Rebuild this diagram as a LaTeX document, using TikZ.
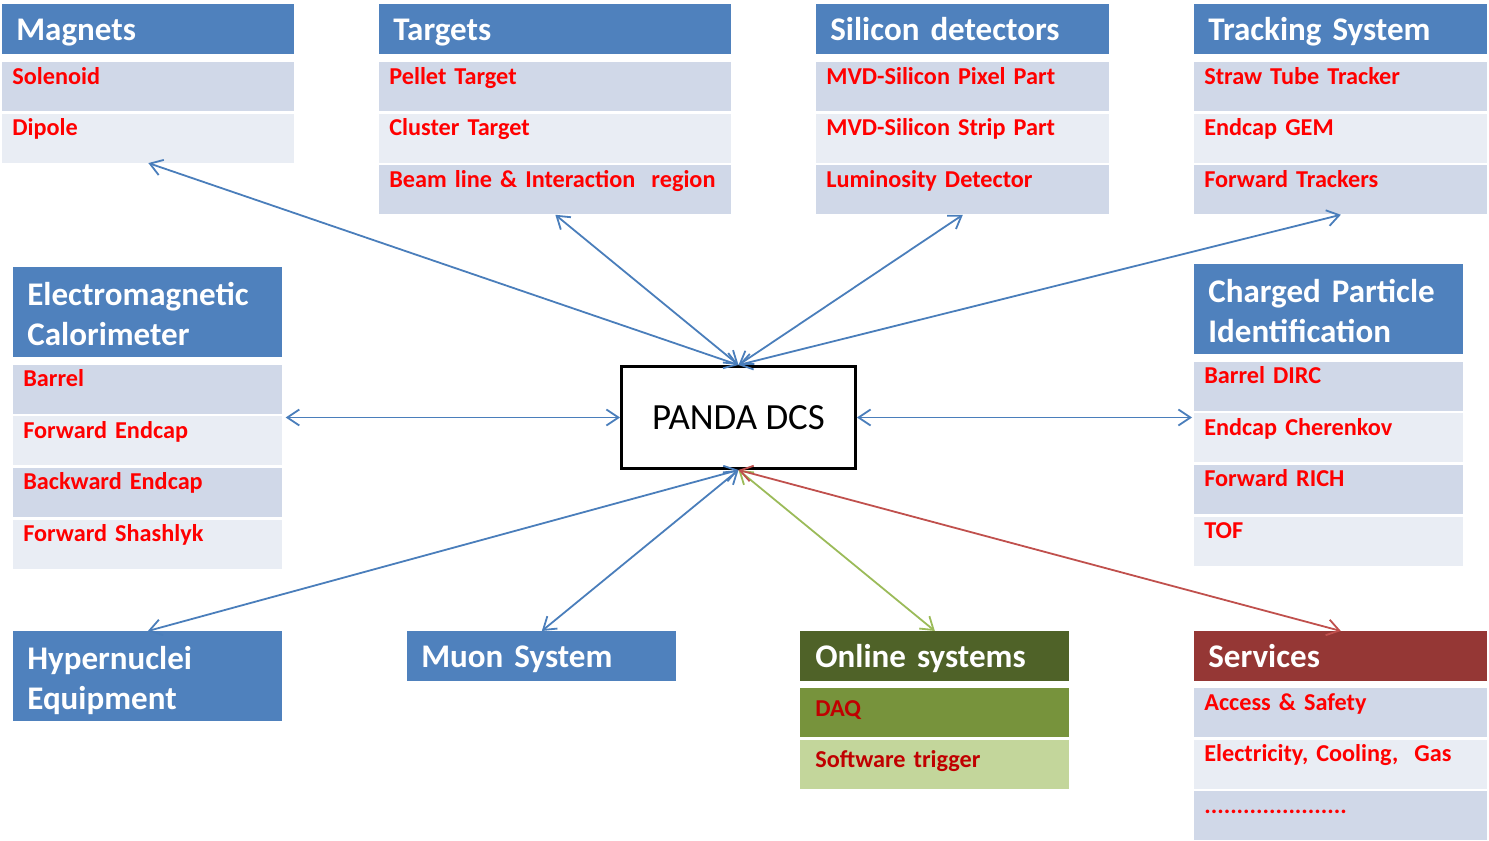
\documentclass[tikz,border=0pt]{standalone}
\usepackage{fontspec}
\setmainfont{Carlito}
\usetikzlibrary{positioning,arrows.meta}

\definecolor{hdblue}{HTML}{4F81BD}
\definecolor{rowdark}{HTML}{D0D8E8}
\definecolor{rowlight}{HTML}{E9EDF4}
\definecolor{lnblue}{HTML}{4A7EBB}
\definecolor{olgreen}{HTML}{4F6228}
\definecolor{daqgreen}{HTML}{77933C}
\definecolor{swgreen}{HTML}{C3D69B}
\definecolor{srvred}{HTML}{953735}
\definecolor{arrgreen}{HTML}{9BBB59}
\definecolor{arrred}{HTML}{C0504D}
\definecolor{txtred}{HTML}{C00000}

\tikzset{
  head/.style={fill=hdblue, text=white, font=\fontsize{18.8}{23}\selectfont\bfseries,
    inner xsep=0.28cm, inner ysep=0pt, text width=#1*0.02cm-0.56cm,
    text height=0.72cm, text depth=0.28cm, anchor=north west, align=left},
  bighead/.style={head=#1, text height=0.76cm, text depth=1.03cm},
  item/.style={text=red, font=\fontsize{13.8}{17}\selectfont\bfseries,
    inner xsep=0.2cm, inner ysep=0pt, text width=#1*0.02cm-0.4cm,
    text height=0.44cm, text depth=0.54cm},
  rowa/.style={item=#1, fill=rowdark},
  rowb/.style={item=#1, fill=rowlight},
  onrow/.style={item=#1, text=txtred, inner xsep=0.3cm, text width=#1*0.02cm-0.6cm,
    text height=0.56cm, text depth=0.42cm},
  dcsbox/.style={draw=black, line width=0.06cm, minimum width=4.68cm,
    minimum height=2.04cm, font=\fontsize{21}{25}\selectfont},
  link/.style={lnblue, line width=0.036cm, <->,
    >={Straight Barb[length=0.24cm,width=0.32cm]}}
}

\begin{document}
\begin{tikzpicture}[x=0.02cm, y=-0.02cm]
  \useasboundingbox (0,0) rectangle (1489,841);

  % top row
  \node[head=292] (mag) at (2,4) {Magnets};
  \node[rowa=292, below=0.14cm of mag] (mag1) {Solenoid};
  \node[rowb=292, below=0.04cm of mag1] (mag2) {Dipole};

  \node[head=352] (tgt) at (379,4) {Targets};
  \node[rowa=352, below=0.14cm of tgt] (tgt1) {Pellet Target};
  \node[rowb=352, below=0.04cm of tgt1] (tgt2) {Cluster Target};
  \node[rowa=352, below=0.04cm of tgt2] (tgt3) {Beam line \& Interaction\ \ region};

  \node[head=293] (sil) at (816,4) {Silicon detectors};
  \node[rowa=293, below=0.14cm of sil] (sil1) {MVD-Silicon Pixel Part};
  \node[rowb=293, below=0.04cm of sil1] (sil2) {MVD-Silicon Strip Part};
  \node[rowa=293, below=0.04cm of sil2] (sil3) {Luminosity Detector};

  \node[head=293] (trk) at (1194,4) {Tracking System};
  \node[rowa=293, below=0.14cm of trk] (trk1) {Straw Tube Tracker};
  \node[rowb=293, below=0.04cm of trk1] (trk2) {Endcap GEM};
  \node[rowa=293, below=0.04cm of trk2] (trk3) {Forward Trackers};

  % middle row
  \node[bighead=269] (emc) at (13,267) {Electromagnetic\\Calorimeter};
  \node[rowa=269, below=0.14cm of emc] (emc1) {Barrel};
  \node[rowb=269, below=0.04cm of emc1] (emc2) {Forward Endcap};
  \node[rowa=269, below=0.04cm of emc2] (emc3) {Backward Endcap};
  \node[rowb=269, below=0.04cm of emc3] (emc4) {Forward Shashlyk};

  \node[dcsbox] (dcs) at (738.5,417.5) {PANDA DCS};

  \node[bighead=269] (cpid) at (1194,264) {Charged Particle\\Identification};
  \node[rowa=269, below=0.14cm of cpid] (cpid1) {Barrel DIRC};
  \node[rowb=269, below=0.04cm of cpid1] (cpid2) {Endcap Cherenkov};
  \node[rowa=269, below=0.04cm of cpid2] (cpid3) {Forward RICH};
  \node[rowb=269, below=0.04cm of cpid3] (cpid4) {TOF};

  % bottom row
  \node[bighead=269] (hyp) at (13,631) {Hypernuclei\\Equipment};
  \node[head=269] (mu) at (407,631) {Muon System};

  \node[head=269, fill=olgreen, inner xsep=0.3cm, text width=269*0.02cm-0.6cm] (onl) at (800,631) {Online systems};
  \node[onrow=269, fill=daqgreen, below=0.12cm of onl] (onl1) {DAQ};
  \node[onrow=269, fill=swgreen, below=0.04cm of onl1] (onl2) {Software trigger};

  \node[head=293, fill=srvred] (srv) at (1194,631) {Services};
  \node[rowa=293, below=0.12cm of srv] (srv1) {Access \& Safety};
  \node[rowb=293, below=0.04cm of srv1] (srv2) {Electricity, Cooling,\ \ Gas};
  \node[rowa=293, below=0.04cm of srv2] (srv3) {......................};

  % connectors
  \draw[link] (dcs.north) -- (mag2.south);
  \draw[link] (dcs.north) -- (tgt3.south);
  \draw[link] (dcs.north) -- (sil3.south);
  \draw[link] (dcs.north) -- (trk3.south);
  \draw[link, shorten >=0.06cm] (dcs.west) -- (dcs.west -| emc2.east);
  \draw[link, shorten >=0.04cm] (dcs.east) -- (dcs.east -| cpid2.west);
  \draw[link] (dcs.south) -- (hyp.north);
  \draw[link] (dcs.south) -- (mu.north);
  \draw[link, arrgreen] (dcs.south) -- (onl.north);
  \draw[link, arrred] (dcs.south) -- (srv.north);
\end{tikzpicture}
\end{document}
